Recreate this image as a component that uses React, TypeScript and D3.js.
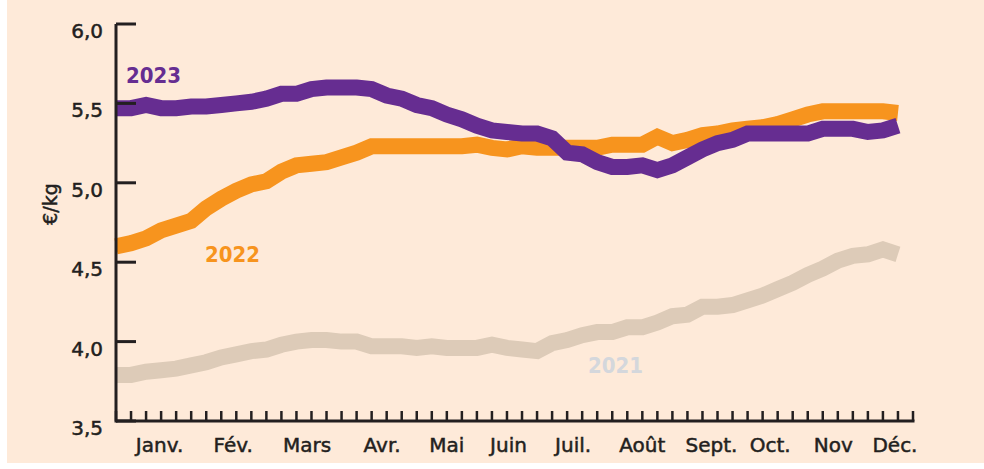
import React from 'react';
import * as d3 from 'd3';

// weekly prices, €/kg, weeks 0..52
const prices2021 = [
  3.79, 3.79, 3.81, 3.82, 3.83, 3.85, 3.87, 3.9, 3.92, 3.94, 3.95, 3.98, 4.0, 4.01, 4.01, 4.0, 4.0,
  3.97, 3.97, 3.97, 3.96, 3.97, 3.96, 3.96, 3.96, 3.98, 3.96, 3.95, 3.94, 3.99, 4.01, 4.04, 4.06,
  4.06, 4.09, 4.09, 4.12, 4.16, 4.17, 4.22, 4.22, 4.23, 4.26, 4.29, 4.33, 4.37, 4.42, 4.46, 4.51,
  4.54, 4.55, 4.58, 4.55,
];
const prices2022 = [
  4.6, 4.62, 4.65, 4.7, 4.73, 4.76, 4.84, 4.9, 4.95, 4.99, 5.01, 5.07, 5.11, 5.12, 5.13, 5.16, 5.19,
  5.23, 5.23, 5.23, 5.23, 5.23, 5.23, 5.23, 5.24, 5.22, 5.21, 5.23, 5.22, 5.22, 5.22, 5.22, 5.22,
  5.24, 5.24, 5.24, 5.29, 5.25, 5.27, 5.3, 5.31, 5.33, 5.34, 5.35, 5.37, 5.4, 5.43, 5.45, 5.45,
  5.45, 5.45, 5.45, 5.44,
];
const prices2023 = [
  5.47, 5.47, 5.49, 5.47, 5.47, 5.48, 5.48, 5.49, 5.5, 5.51, 5.53, 5.56, 5.56, 5.59, 5.6, 5.6, 5.6,
  5.59, 5.55, 5.53, 5.49, 5.47, 5.43, 5.4, 5.36, 5.33, 5.32, 5.31, 5.31, 5.28, 5.19, 5.18, 5.13,
  5.1, 5.1, 5.11, 5.08, 5.11, 5.16, 5.21, 5.25, 5.27, 5.31, 5.31, 5.31, 5.31, 5.31, 5.34, 5.34,
  5.34, 5.32, 5.33, 5.36,
];

const months = ['Janv.', 'Fév.', 'Mars', 'Avr.', 'Mai', 'Juin', 'Juil.', 'Août', 'Sept.', 'Oct.', 'Nov', 'Déc.'];
const monthPos = [2.9, 7.8, 12.7, 17.7, 22.0, 26.1, 30.4, 35.0, 39.6, 43.5, 47.7, 51.8];
const yTicks = [3.5, 4.0, 4.5, 5.0, 5.5, 6.0];
const weekTicks = d3.range(0, 54);

const series = [
  { name: '2021', values: prices2021, color: '#ddcbb8', labelColor: '#d4d7dc', lx: 588, ly: 373 },
  { name: '2022', values: prices2022, color: '#f7941e', labelColor: '#f7941e', lx: 205, ly: 262 },
  { name: '2023', values: prices2023, color: '#662d91', labelColor: '#662d91', lx: 126, ly: 83 },
];

const W = 984;
const H = 469;
const font = '"DejaVu Sans", sans-serif';
const ink = '#231f20';

export default function App() {
  const x = d3.scaleLinear().domain([0, 53]).range([116, 913]);
  const y = d3.scaleLinear().domain([3.5, 6.0]).range([421, 24]);

  const line = d3
    .line<number>()
    .x((_, i) => x(i))
    .y(d => y(d));

  const labelStyle = { stroke: ink, strokeWidth: 0.5 };

  return (
    <svg
      width={W}
      height={H}
      style={{ position: 'absolute', left: 0, top: 0, display: 'block' }}
      fontFamily={font}
    >
      <rect x={0} y={0} width={W} height={H} fill="#ffffff" />
      <rect x={7} y={0} width={W - 7} height={463} fill="#feead9" />

      {series.map(s => (
        <path
          key={s.name}
          d={line(s.values) || ''}
          fill="none"
          stroke={s.color}
          strokeWidth={16}
          strokeLinecap="butt"
          strokeLinejoin="miter"
        />
      ))}

      {series.map(s => (
        <text
          key={'l' + s.name}
          x={s.lx}
          y={s.ly}
          fill={s.labelColor}
          fontSize={22}
          fontWeight="bold"
          fontFamily='"DejaVu Sans Condensed", "DejaVu Sans", sans-serif'
          style={{ fontStretch: 'condensed' }}
        >
          {s.name}
        </text>
      ))}

      {/* axes */}
      <line x1={116} x2={116} y1={y(6.0)} y2={y(3.5) + 1.5} stroke={ink} strokeWidth={3} />
      <line x1={116} x2={x(53) + 1.5} y1={y(3.5)} y2={y(3.5)} stroke={ink} strokeWidth={3} />

      {yTicks.map(t => (
        <g key={'y' + t}>
          <line x1={116} x2={136} y1={y(t)} y2={y(t)} stroke={ink} strokeWidth={3} />
          <text x={103} y={y(t) + 14} textAnchor="end" fontSize={20} fill={ink} {...labelStyle}>
            {t.toFixed(1).replace('.', ',')}
          </text>
        </g>
      ))}

      {weekTicks.map(w => (
        <line key={'w' + w} x1={x(w)} x2={x(w)} y1={y(3.5)} y2={y(3.5) - 10} stroke={ink} strokeWidth={2.5} />
      ))}

      {months.map((m, i) => (
        <text
          key={m}
          x={x(monthPos[i])}
          y={452}
          textAnchor="middle"
          fontSize={20}
          fill={ink}
          {...labelStyle}
        >
          {m}
        </text>
      ))}

      <text
        transform="translate(57,204) rotate(-90)"
        textAnchor="middle"
        fontSize={19}
        fill={ink}
        {...labelStyle}
      >
        €/kg
      </text>
    </svg>
  );
}
